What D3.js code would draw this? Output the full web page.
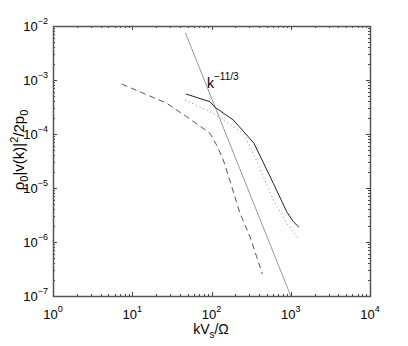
<!DOCTYPE html>
<html>
<head>
<meta charset="utf-8">
<script src="https://cdn.jsdelivr.net/npm/d3@7"></script>
<style>
  body { margin: 0; background: #fff; }
  text { font-family: "Liberation Sans", Arial, sans-serif; fill: #000; }
</style>
</head>
<body>
<div id="chart"></div>
<script>
// solid curve
const solidK = [47.7, 95.7, 111, 188, 278, 344, 603, 889, 1077, 1271];
const solidE = [5.5e-4, 3.96e-4, 3.12e-4, 1.82e-4, 9.6e-5, 6.7e-5, 1.22e-5, 3.64e-6, 2.38e-6, 1.87e-6];

// dotted curve
const dottedK = [46.3, 105, 188, 252, 337, 450, 603, 889, 1210];
const dottedE = [4.26e-4, 2.42e-4, 1.36e-4, 1.03e-4, 4.4e-5, 1.62e-5, 6.0e-6, 2.22e-6, 1.22e-6];

// dashed curve
const dashedK = [7.36, 27.2, 48.7, 95.7, 116, 141, 180, 229, 306, 372, 438];
const dashedE = [8.43e-4, 3.71e-4, 2.09e-4, 1.03e-4, 6.25e-5, 3.3e-5, 1.06e-5, 3.4e-6, 1.25e-6, 5.3e-7, 2.55e-7];

// k^-11/3 reference line endpoints
const refK = [46.8, 1000];
const refE = [7.5e-3, 1e-7];

const xTicks = [0, 1, 2, 3, 4];
const yTicks = [-7, -6, -5, -4, -3, -2];

const W = 408, H = 346;
const M = { left: 53, right: 38, top: 26, bottom: 50 };

const svg = d3.select("#chart").append("svg")
  .attr("width", W).attr("height", H);

const x = d3.scaleLog().domain([1, 1e4]).range([M.left, W - M.right]);
const y = d3.scaleLog().domain([1e-7, 1e-2]).range([H - M.bottom, M.top]);

const line = d3.line().x((d) => x(d[0])).y((d) => y(d[1]));
const zip = (a, b) => a.map((v, i) => [v, b[i]]);

// ticks (major + minor), drawn inward on all four sides
const minorX = [];
for (let e = 0; e < 4; e++) for (let m = 2; m < 10; m++) minorX.push(m * 10 ** e);
const minorY = [];
for (let e = -7; e < -2; e++) for (let m = 2; m < 10; m++) minorY.push(m * 10 ** e);

const tickG = svg.append("g").attr("stroke", "#444").attr("stroke-width", 1);
const x0 = x.range()[0], x1 = x.range()[1], y0 = y.range()[0], y1 = y.range()[1];

function vTick(v, len) {
  const px = Math.round(x(v)) + 0.5;
  tickG.append("line").attr("x1", px).attr("x2", px).attr("y1", y0).attr("y2", y0 - len);
  tickG.append("line").attr("x1", px).attr("x2", px).attr("y1", y1).attr("y2", y1 + len);
}
function hTick(v, len) {
  const py = Math.round(y(v)) + 0.5;
  tickG.append("line").attr("y1", py).attr("y2", py).attr("x1", x0).attr("x2", x0 + len);
  tickG.append("line").attr("y1", py).attr("y2", py).attr("x1", x1).attr("x2", x1 - len);
}
xTicks.forEach((e) => vTick(10 ** e, 4));
minorX.forEach((v) => vTick(v, 2));
yTicks.forEach((e) => hTick(10 ** e, 4));
minorY.forEach((v) => hTick(v, 2));

// box
svg.append("rect")
  .attr("x", x0 + 0.5).attr("y", y1 + 0.5)
  .attr("width", x1 - x0).attr("height", y0 - y1)
  .attr("fill", "none").attr("stroke", "#555").attr("stroke-width", 1.5);

// tick labels
const xl = svg.append("g");
xTicks.forEach((e) => {
  const t = xl.append("text")
    .attr("x", x(10 ** e)).attr("y", y0 + 23)
    .attr("text-anchor", "middle").attr("font-size", 13);
  t.append("tspan").text("10");
  t.append("tspan").attr("dy", -7).attr("font-size", 9).text(e);
});
yTicks.forEach((e) => {
  const t = xl.append("text")
    .attr("x", x0 - 5).attr("y", y(10 ** e) + 5)
    .attr("text-anchor", "end").attr("font-size", 13);
  t.append("tspan").text("10");
  t.append("tspan").attr("dy", -7).attr("font-size", 9).text("\u2212" + -e);
});

// axis titles
const xt = svg.append("text")
  .attr("x", 211).attr("y", 334)
  .attr("text-anchor", "middle").attr("font-size", 14);
xt.append("tspan").text("kV");
xt.append("tspan").attr("dy", 4).attr("font-size", 10).text("s");
xt.append("tspan").attr("dy", -4).text("/\u03A9");

const yt = svg.append("text")
  .attr("transform", "translate(24,150) rotate(-90)")
  .attr("text-anchor", "middle").attr("font-size", 15);
yt.append("tspan").text("\u03C1");
yt.append("tspan").attr("dy", 4).attr("font-size", 11).text("0");
yt.append("tspan").attr("dy", -4).text("|v(k)|");
yt.append("tspan").attr("dy", -6).attr("font-size", 11).text("2");
yt.append("tspan").attr("dy", 6).text("/2p");
yt.append("tspan").attr("dy", 4).attr("font-size", 11).text("0");

// data
const plot = svg.append("g").attr("fill", "none");
plot.append("path").datum(zip(refK, refE)).attr("d", line)
  .attr("stroke", "#999").attr("stroke-width", 1);
plot.append("path").datum(zip(dashedK, dashedE)).attr("d", line)
  .attr("stroke", "#555").attr("stroke-width", 1).attr("stroke-dasharray", "6,4");
plot.append("path").datum(zip(dottedK, dottedE)).attr("d", line)
  .attr("stroke", "#888").attr("stroke-width", 1).attr("stroke-dasharray", "1,3");
plot.append("path").datum(zip(solidK, solidE)).attr("d", line)
  .attr("stroke", "#222").attr("stroke-width", 1);

// annotation
const ann = svg.append("text").attr("x", 207).attr("y", 88).attr("font-size", 14);
ann.append("tspan").text("k");
ann.append("tspan").attr("dy", -8).attr("font-size", 10).text("\u221211/3");
</script>
</body>
</html>
